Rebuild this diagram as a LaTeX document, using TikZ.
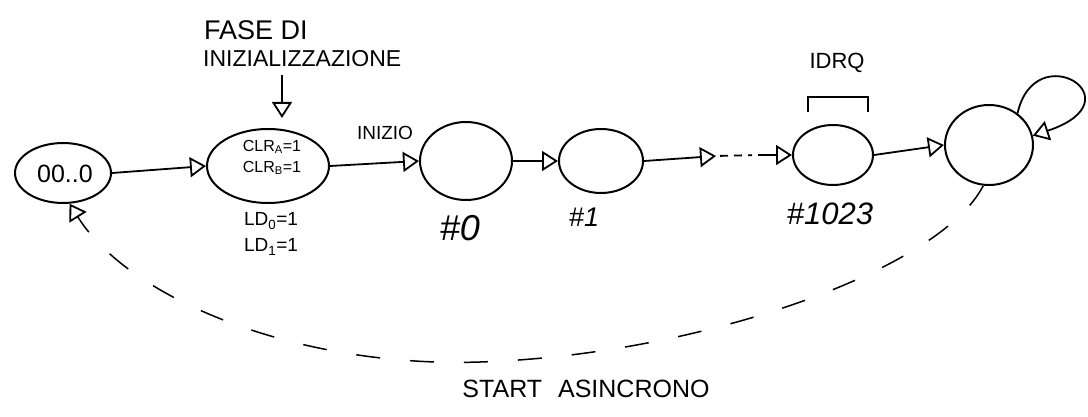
\documentclass[tikz,border=0pt]{standalone}
\usepackage{fontspec}
\setmainfont{Liberation Sans}
\usetikzlibrary{shapes.geometric,arrows.meta}
\tikzset{
  st/.style={draw,ellipse,line width=2pt,inner sep=0pt},
  hand/.style={inner sep=0pt,font=\fontsize{#1}{#1}\selectfont},
  tri/.style={-{Triangle[open,length=16pt,width=20pt,line width=1.8pt]}},
  conn/.style={line width=1.8pt},
}
\begin{document}
\begin{tikzpicture}[x=1pt,y=-1pt]
\useasboundingbox (0,0) rectangle (1088,417);
% states
\node[st,minimum width=96pt,minimum height=60pt] (A) at (63,173) {};
\node[hand=25] (Atxt) at (65,174) {00..0};
\node[st,minimum width=122pt,minimum height=74pt] (B) at (268,166) {};
\node[st,minimum width=92pt,minimum height=78pt] (C) at (466,161) {};
\node[st,minimum width=84pt,minimum height=64pt] (D) at (601,161) {};
\node[st,minimum width=80pt,minimum height=60pt] (E) at (833,155) {};
\node[st,minimum width=88pt,minimum height=80pt] (F) at (989,145) {};
% texts
\node[hand=16] (clra) at (272,147) {CLR\textsubscript{A}=1};
\node[hand=16] (clrb) at (272,168) {CLR\textsubscript{B}=1};
\node[hand=19] (ld0) at (271,221) {LD\textsubscript{0}=1};
\node[hand=19] (ld1) at (271,247) {LD\textsubscript{1}=1};
\node[hand=27,anchor=west] (fase) at (204,30) {FASE DI};
\node[hand=23,anchor=west] (iniz) at (203,59) {INIZIALIZZAZIONE};
\node[hand=19] (inizio) at (385,133) {INIZIO};
\node[inner sep=0pt,font=\fontsize{36}{36}\selectfont\itshape] (l0) at (460,228) {\#0};
\node[inner sep=0pt,font=\fontsize{27}{27}\selectfont\itshape] (l1) at (584,217) {\#1};
\node[inner sep=0pt,font=\fontsize{31}{31}\selectfont\itshape] (l1023) at (830,214) {\#1023};
\node[hand=22] (idrq) at (837,63) {IDRQ};
\node[hand=25] (start) at (586,389) {START\hspace{16pt}ASINCRONO};
% connectors
\coordinate (dn) at (282,75);
\coordinate (m1) at (716,156);
\coordinate (m2) at (758,155);
\draw[conn,tri,shorten >=10pt] (dn) -- (dn |- B.north);
\draw[conn,tri] (A.east) -- (B.west);
\draw[conn,tri] (B.east) -- (C.west);
\draw[conn,tri] (C.east) -- (D.west);
\draw[conn,tri] (D.east) -- (m1);
\draw[conn,dash pattern=on 8pt off 6pt,shorten <=4pt,shorten >=6pt] (m1) -- (m2);
\draw[conn,tri] (m2) -- (E.west);
\draw[conn,tri] (E.east) -- (F.west);
% self loop
\draw[conn,tri] (F.48) .. controls (1035,35) and (1140,100) .. (F.12);
% bracket
\draw[conn] (808,112) -- (808,97) -- (868,97) -- (868,112);
% asynchronous start
\draw[line width=1.5pt,dash pattern=on 24pt off 30pt,tri]
  (F.262) .. controls (940,270) and (700,355) .. (480,362)
  .. controls (300,368) and (130,300) .. (A.282);
\end{tikzpicture}
\end{document}
